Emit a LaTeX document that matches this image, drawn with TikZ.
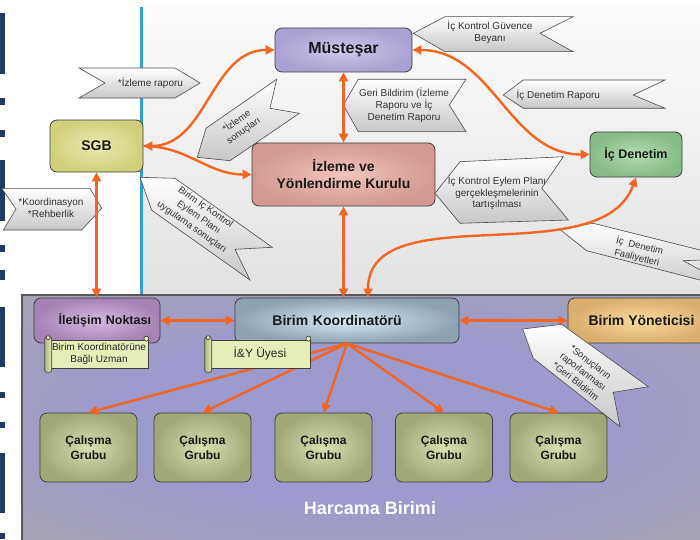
\documentclass[tikz,border=0pt]{standalone}
\usepackage{fontspec}
\setmainfont{Liberation Sans}
\usetikzlibrary{arrows.meta}

\definecolor{linkorange}{HTML}{F26522}
\definecolor{musin}{HTML}{D0C9EB}
\definecolor{musout}{HTML}{ABA0D2}
\definecolor{sgbin}{HTML}{EAEAB2}
\definecolor{sgbout}{HTML}{D0D07C}
\definecolor{kurin}{HTML}{F2C4BC}
\definecolor{kurout}{HTML}{D29A92}
\definecolor{icdin}{HTML}{B6DCB4}
\definecolor{icdout}{HTML}{86BA88}
\definecolor{iltin}{HTML}{D5BAE0}
\definecolor{iltout}{HTML}{A582B3}
\definecolor{bkoin}{HTML}{DAEAF6}
\definecolor{bkoout}{HTML}{8FA2B2}
\definecolor{byoin}{HTML}{FBDA9E}
\definecolor{byoout}{HTML}{D9AE6E}
\definecolor{grpin}{HTML}{D8E0AE}
\definecolor{grpout}{HTML}{A0A878}
\definecolor{scrollfill}{HTML}{E6EDB6}
\definecolor{panelin}{HTML}{9D9ACD}
\definecolor{panelout}{HTML}{A8A8A8}
\definecolor{uppertop}{HTML}{FCFCFC}
\definecolor{upperbot}{HTML}{E2E2E2}
\definecolor{lineblue}{HTML}{2E9FD9}
\definecolor{barblue}{HTML}{1F3B60}

\pgfdeclareradialshading{panelglow}{\pgfpoint{0bp}{0bp}}{color(0bp)=(panelin); color(18bp)=(panelin); color(42bp)=(panelout); color(50bp)=(panelout)}

\tikzset{
  box/.style={draw=black!75, line width=0.8pt, rounded corners=7pt, inner sep=0pt,
    align=center, text=black!90, font=\bfseries\fontsize{14}{17}\selectfont},
  group/.style={box, minimum width=97pt, minimum height=69pt, inner color=grpin,
    outer color=grpout, font=\bfseries\fontsize{12}{15}\selectfont},
  note/.style={inner sep=0pt, align=center, text=black!80,
    font=\fontsize{10}{11.7}\selectfont},
  turned/.style={note, font=\fontsize{9.5}{12}\selectfont},
  ribbon/.style={draw=black!70, line width=0.6pt, top color=white, bottom color=black!22},
  link/.style={draw=linkorange, line width=2.4pt},
  scrollbody/.style={draw=black!75, line width=0.7pt, fill=scrollfill, inner sep=0pt,
    align=center, text=black!85},
  scrollroll/.style={draw=black!75, line width=0.7pt, rounded corners=2.5pt,
    left color=scrollfill!75!black, right color=scrollfill}
}

\begin{document}
\begin{tikzpicture}[x=1pt, y=1pt, >={Triangle[length=9pt,width=9pt]}]
\useasboundingbox (0,0) rectangle (700,539);

% backgrounds
\fill[white] (0,0) rectangle (700,539);
\fill[top color=uppertop, bottom color=upperbot] (142,244) rectangle (700,532);
\fill[lineblue] (140,244) rectangle (143,532);
\shade[shading=panelglow] (22,-2) rectangle (702,244);
\draw[line width=1.5pt, black!65] (22,-2) |- (702,244);
\foreach \ya/\yb in {465/526, 434/441, 402/409, 318/379, 287/294, 259/269,
                     172/232, 141/147, 111/117, 26/86, 0/6}
  \fill[barblue] (0,\ya) rectangle (4.5,\yb);

% main boxes
\node[box, minimum width=137pt, minimum height=44pt, inner color=musin, outer color=musout,
  font=\bfseries\fontsize{16}{19}\selectfont] (mus) at (343.5,489) {Müsteşar};
\node[box, minimum width=93pt, minimum height=52pt, inner color=sgbin, outer color=sgbout]
  (sgb) at (96.5,393) {SGB};
\node[box, minimum width=183pt, minimum height=63pt, inner color=kurin, outer color=kurout]
  (kur) at (343.5,364.5) {İzleme ve\\Yönlendirme Kurulu};
\node[box, minimum width=92pt, minimum height=45pt, inner color=icdin, outer color=icdout,
  font=\bfseries\fontsize{12.5}{15}\selectfont] (icd) at (636,384.5) {İç Denetim};
\node[box, minimum width=126pt, minimum height=45pt, inner color=iltin, outer color=iltout,
  text width=108pt, align=right, font=\bfseries\fontsize{12.5}{15}\selectfont]
  (ilt) at (97,218.5) {İletişim Noktası};
\node[box, minimum width=224pt, minimum height=45pt, inner color=bkoin, outer color=bkoout,
  text width=200pt, align=center, text depth=0pt]
  (bko) at (347,218.5) {\hspace*{-20pt}Birim Koordinatörü};
\node[box, minimum width=147pt, minimum height=45pt, inner color=byoin, outer color=byoout]
  (byo) at (641.5,218.5) {Birim Yöneticisi};
\foreach \x [count=\i] in {88.5,202.5,323.5,444,558.5}
  \node[group] (cg\i) at (\x,91.5) {Çalışma\\Grubu};

% birim koordinatoru to the groups
\foreach \i in {1,...,5}
  \draw[link,->] (bko.south) -- (cg\i.north);

% scrolls
\node[scrollbody, minimum width=98pt, minimum height=28pt,
  font=\fontsize{10}{11.5}\selectfont] (uzm) at (99,185) {Birim Koordinatörüne\\Bağlı Uzman};
\draw[scrollroll] ([xshift=-5pt,yshift=-4pt]uzm.south west) rectangle ([xshift=2pt,yshift=3pt]uzm.north west);
\draw[scrollbody] ([xshift=-2pt,yshift=1pt]uzm.north east) circle (2.5pt);
\draw[scrollbody] ([xshift=-1.5pt,yshift=2pt]uzm.north west) circle (2pt);
\node[scrollbody, minimum width=100pt, minimum height=28pt,
  font=\fontsize{12}{14}\selectfont] (iyu) at (260,185) {İ\&Y Üyesi};
\draw[scrollroll] ([xshift=-5pt,yshift=-4pt]iyu.south west) rectangle ([xshift=2pt,yshift=3pt]iyu.north west);
\draw[scrollbody] ([xshift=-2pt,yshift=1pt]iyu.north east) circle (2.5pt);
\draw[scrollbody] ([xshift=-1.5pt,yshift=2pt]iyu.north west) circle (2pt);

% ribbons
\draw[ribbon] (79,471) -- (175,471) -- (200,456) -- (175,441) -- (79,441) -- (105,456) -- cycle;
\node[note] (izr) at (150.5,456) {*İzleme raporu};
\draw[ribbon] (413.3,505.7) -- (445,522.3) -- (573,522.3) -- (540,505.7) -- (573,487.3) -- (445,487.3) -- cycle;
\node[note] (icg) at (490,506.5) {İç Kontrol Güvence\\Beyanı};
\draw[ribbon] (343.3,434) -- (358.3,459.7) -- (466,459.7) -- (449.3,434) -- (466,407.3) -- (358.3,407.3) -- cycle;
\node[note] (grb) at (404,434) {Geri Bildirim (İzleme\\Raporu ve İç\\Denetim Raporu};
\draw[ribbon] (503.3,444) -- (523.3,459) -- (665,459) -- (633.3,444) -- (665,430.7) -- (523.3,430.7) -- cycle;
\node[note] (idr) at (558.3,444) {İç Denetim Raporu};
\draw[ribbon] (276.7,459.7) -- (206,410.7) -- (197.3,381.7) -- (230,378.3) -- (299.3,425.7) -- (270,430.7) -- cycle;
\node[turned, rotate=35] (izs) at (240,413) {*İzleme\\sonuçları};
\draw[ribbon] (140,361.7) -- (175,360.7) -- (272.3,291.7) -- (235,289.7) -- (250,259) -- (151.7,328.7) -- cycle;
\node[turned, rotate=-35] (bic) at (199,322) {Birim İç Kontrol\\Eylem Planı\\uygulama sonuçları};
\draw[ribbon] (1.7,350.7) -- (90,350.7) -- (101.7,330.7) -- (81.7,309) -- (3.3,309) -- (16,330) -- cycle;
\node[note] (koo) at (51,331) {*Koordinasyon\\*Rehberlik};
\draw[ribbon] (435,345.7) -- (460,377.3) -- (563.3,382.3) -- (541.7,350.7) -- (568.3,319) -- (460,315.7) -- cycle;
\node[note] (ike) at (497,346) {İç Kontrol Eylem Planı\\gerçekleşmelerinin\\tartışılması};
\draw[ribbon] (559.3,310) -- (593.3,315.7) -- (735,280.3) -- (683.3,278.3) -- (735,249.9) -- (586.7,288.3) -- cycle;
\node[turned, rotate=-14] (idf) at (638.3,287.3) {İç~ Denetim\\Faaliyetleri};
\draw[ribbon] (522.7,210) -- (561.7,214.7) -- (648.3,152.3) -- (613.3,146.7) -- (620,112.3) -- (533.3,180.7) -- cycle;
\node[turned, rotate=-38] (snc) at (583.3,167.3) {*Sonuçların\\raporlanması\\*Geri Bildirim};

% connectors
\draw[link,<->] (sgb.east) to[out=0,in=180] (mus.west);
\draw[link,->] (sgb.east) to[out=0,in=180] (kur.west);
\draw[link,<->] (mus.south) -- (kur.north);
\draw[link,<->] (mus.east) to[out=0,in=180] (icd.west);
\draw[link,<->] (kur.south) -- (kur.south |- bko.north);
\draw[link,<->] (icd.south) to[out=-110,in=90,looseness=0.9] ([xshift=21pt]bko.north);
\draw[link,<->] (sgb.south) -- (sgb.south |- ilt.north);
\draw[link,<->] (ilt.east) -- (bko.west);
\draw[link,<->] (bko.east) -- (byo.west);

% unit label
\node[text=white, font=\bfseries\fontsize{18}{21}\selectfont] (hb) at (370,31) {Harcama Birimi};
\end{tikzpicture}
\end{document}
